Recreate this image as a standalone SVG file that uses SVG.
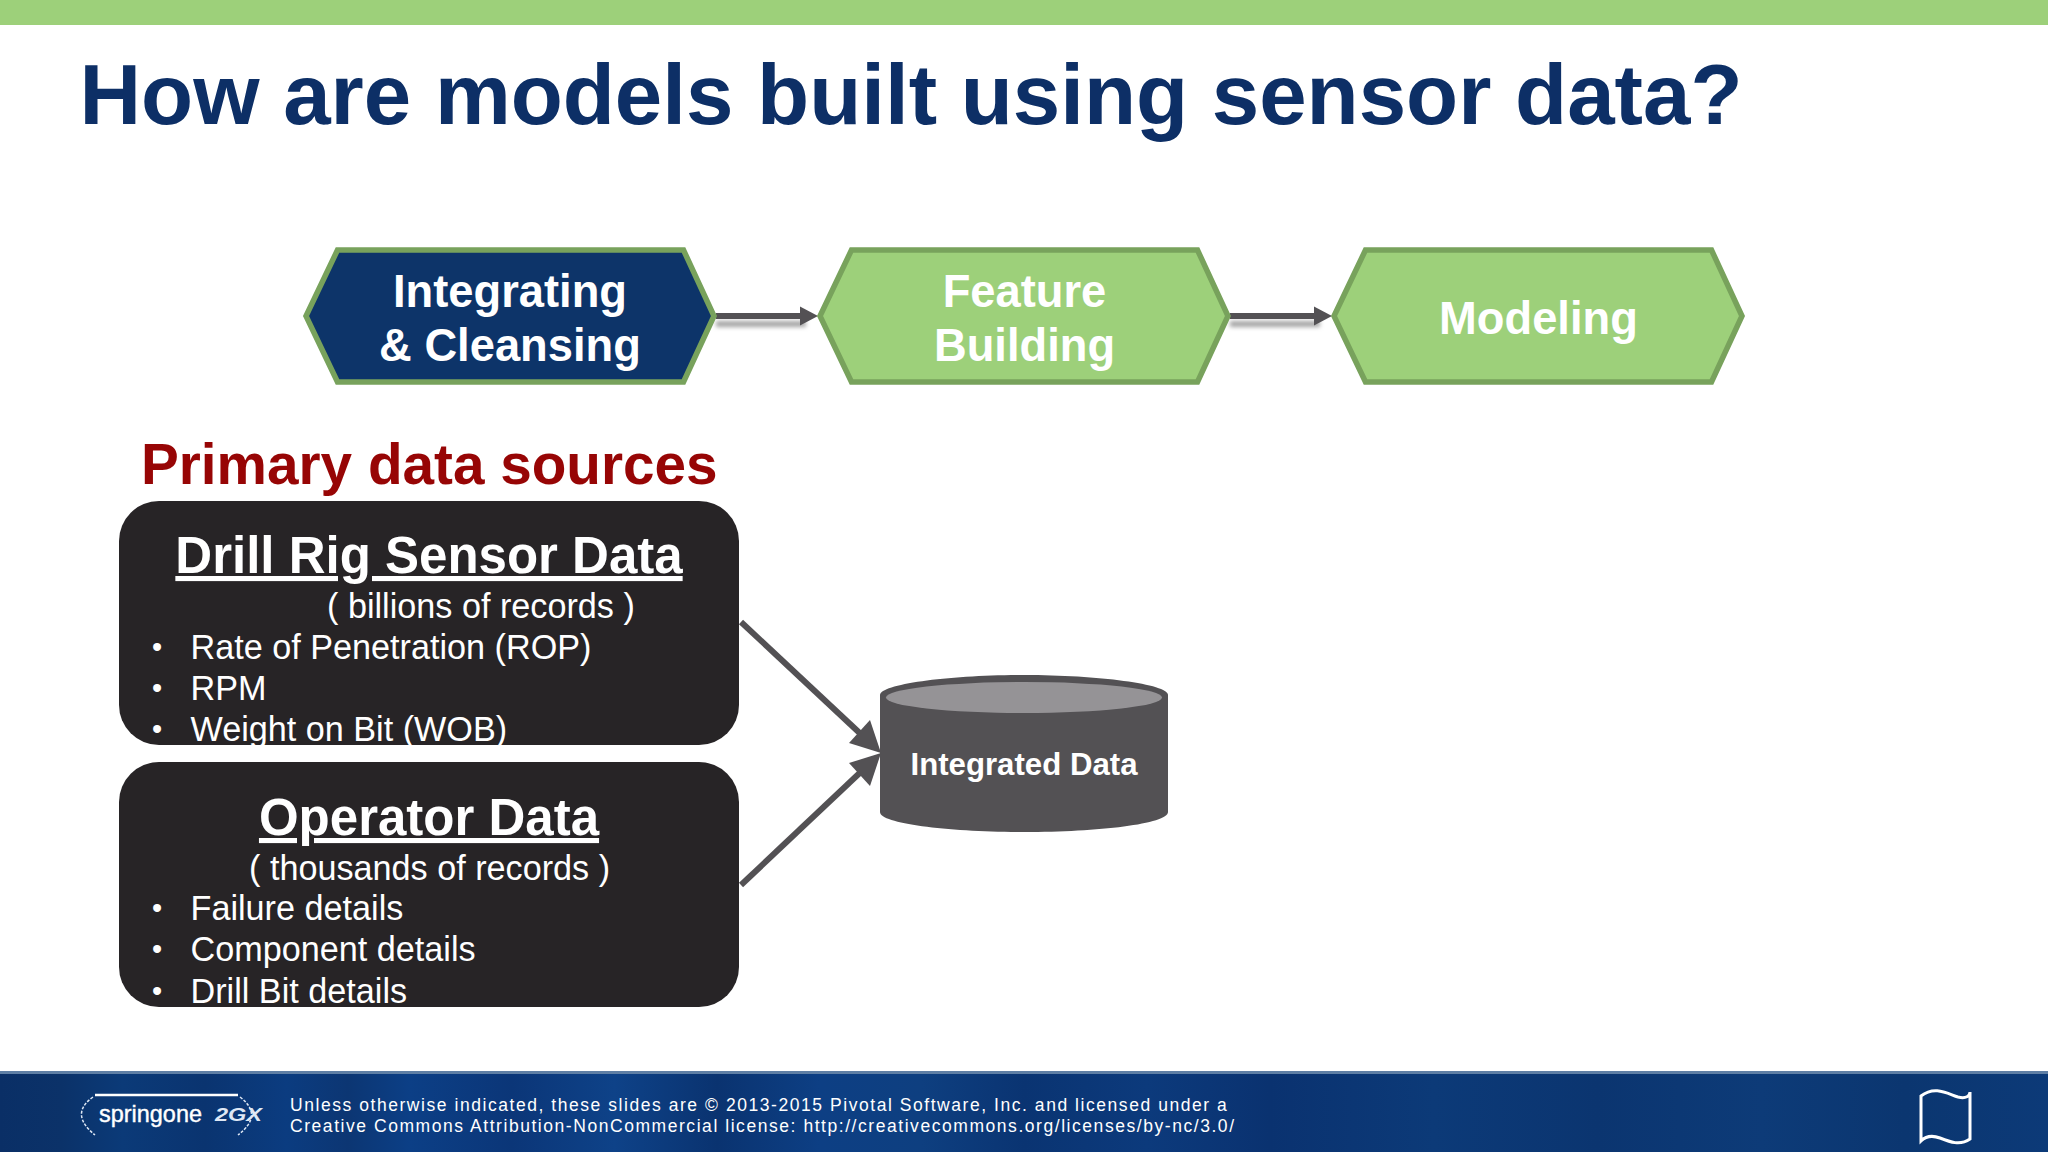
<svg xmlns="http://www.w3.org/2000/svg" width="2048" height="1152" viewBox="0 0 2048 1152">
<style>
text{font-family:"Liberation Sans",Arial,sans-serif}
.hex{stroke:#78a25c;stroke-width:5.5;stroke-linejoin:miter}
.ht{font-size:45.300px;font-weight:bold;fill:#fff;text-anchor:middle}
.box{fill:#272426}
.bt{font-size:51px;font-weight:bold;fill:#fff;text-anchor:middle;text-decoration:underline}
.li{font-size:34.200px;fill:#fff}
.bu{font-size:29px;fill:#fff}
.conn{stroke:#535154;stroke-width:6;fill:none}
.head{fill:#535154}
.foot{font-size:17.500px;fill:#fff;letter-spacing:1.550px}
.sh{fill:#a5a5a5}
</style>
<defs>
<linearGradient id="fg" x1="0" x2="1" y1="0" y2="0">
<stop offset="0" stop-color="#0a2f66"/><stop offset="0.03" stop-color="#0b3269"/><stop offset="0.06" stop-color="#0b3a78"/><stop offset="0.1" stop-color="#0a3470"/><stop offset="0.14" stop-color="#0b3c80"/><stop offset="0.17" stop-color="#0c3673"/><stop offset="0.2" stop-color="#0c3f86"/><stop offset="0.25" stop-color="#0b3678"/><stop offset="0.3" stop-color="#0e4288"/><stop offset="0.35" stop-color="#0a3370"/><stop offset="0.4" stop-color="#0d3f84"/><stop offset="0.45" stop-color="#0e3f80"/><stop offset="0.5" stop-color="#0a3472"/><stop offset="0.56" stop-color="#0c3a7c"/><stop offset="0.62" stop-color="#0a3270"/><stop offset="0.7" stop-color="#0c3a78"/><stop offset="0.78" stop-color="#0b3570"/><stop offset="0.86" stop-color="#0d3b78"/><stop offset="0.93" stop-color="#0b3670"/><stop offset="1" stop-color="#0c3a78"/>
</linearGradient>
<filter id="sh" x="-10%" y="-100%" width="120%" height="300%"><feGaussianBlur stdDeviation="2"/></filter>
</defs>
<rect width="2048" height="1152" fill="#fff"/>
<rect width="2048" height="25" fill="#9dd07a"/>
<text x="79.500" y="124" font-size="85.270" font-weight="bold" fill="#0d2f66">How are models built using sensor data?</text>
<g id="connectors">
<rect class="sh" x="716" y="321" width="90" height="6" filter="url(#sh)"/>
<rect class="sh" x="1230" y="321" width="90" height="6" filter="url(#sh)"/>
<path class="conn" d="M716 316H802"/><path class="head" d="M800 306.500L818 316L800 325.500Z"/>
<path class="conn" d="M1230 316H1316"/><path class="head" d="M1314 306.500L1332 316L1314 325.500Z"/>
<path class="conn" d="M741 622L865 738"/><path class="head" d="M881 753L849 743L870 720Z"/>
<path class="conn" d="M741 885L865 768"/><path class="head" d="M881 753L849 763L870 786Z"/>
</g>
<g id="n1"><path class="hex" fill="#0d3469" d="M337.500 250H683.500L714 316L683.500 382H337.500L306 316Z"/><text class="ht" x="510" y="306.500">Integrating</text><text class="ht" x="510" y="361">&amp; Cleansing</text></g>
<g id="n2"><path class="hex" fill="#9dd07a" d="M851.500 250H1197.500L1228 316L1197.500 382H851.500L820 316Z"/><text class="ht" x="1024.500" y="306.500">Feature</text><text class="ht" x="1024.500" y="361">Building</text></g>
<g id="n3"><path class="hex" fill="#9dd07a" d="M1365.500 250H1711.500L1742 316L1711.500 382H1365.500L1334 316Z"/><text class="ht" x="1538.500" y="334">Modeling</text></g>
<text x="141" y="483.500" font-size="56.700" font-weight="bold" fill="#970505">Primary data sources</text>
<g id="drill"><rect class="box" x="119" y="501" width="620" height="244" rx="40"/>
<text class="bt" x="429" y="573">Drill Rig Sensor Data</text>
<text class="li" x="327" y="618">( billions of records )</text>
<text class="bu" x="152" y="657">•</text><text class="li" x="190.500" y="659">Rate of Penetration (ROP)</text>
<text class="bu" x="152" y="698">•</text><text class="li" x="190.500" y="700">RPM</text>
<text class="bu" x="152" y="739">•</text><text class="li" x="190.500" y="741">Weight on Bit (WOB)</text></g>
<g id="operator"><rect class="box" x="119" y="762" width="620" height="245" rx="40"/>
<text class="bt" x="429" y="835">Operator Data</text>
<text class="li" x="249" y="880">( thousands of records )</text>
<text class="bu" x="152" y="918">•</text><text class="li" x="190.500" y="920">Failure details</text>
<text class="bu" x="152" y="959">•</text><text class="li" x="190.500" y="961">Component details</text>
<text class="bu" x="152" y="1001">•</text><text class="li" x="190.500" y="1003">Drill Bit details</text></g>
<g id="cyl"><path fill="#535154" d="M880 695C880 684 950 675 1024 675C1098 675 1168 684 1168 695V812C1168 824 1098 832 1024 832C950 832 880 824 880 812Z"/>
<ellipse cx="1024" cy="697.500" rx="138" ry="15.500" fill="#959396"/>
<text x="1024" y="774.500" font-size="31.200" font-weight="bold" fill="#fff" text-anchor="middle">Integrated Data</text></g>
<g id="footer"><rect y="1072" width="2048" height="80" fill="url(#fg)"/><rect y="1071" width="2048" height="3" fill="#5f7fa5"/>
<path d="M93 1097Q69 1114 95 1135M240 1097Q264 1115 238 1135" stroke="#dfe8f5" stroke-width="1.500" stroke-dasharray="3 1.500" fill="none"/>
<path d="M95 1095H238" stroke="#fff" stroke-width="2.500" fill="none"/>
<text x="99" y="1122" font-size="24" fill="#fff" stroke="#fff" stroke-width="0.400" textLength="103" lengthAdjust="spacingAndGlyphs">springone</text>
<text x="215" y="1121" font-size="18" font-weight="bold" font-style="italic" fill="#dfe8f5" textLength="47" lengthAdjust="spacingAndGlyphs">2GX</text>
<text class="foot" x="290" y="1111">Unless otherwise indicated, these slides are © 2013-2015 Pivotal Software, Inc. and licensed under a</text>
<text class="foot" x="290" y="1132">Creative Commons Attribution-NonCommercial license: http://creativecommons.org/licenses/by-nc/3.0/</text>
<path d="M1921 1096C1935 1085 1948 1094 1958 1097C1966 1099 1970 1096 1970 1092V1139C1960 1146 1950 1142 1940 1138C1932 1135 1926 1136 1921 1141Z" fill="none" stroke="#fff" stroke-width="3"/>
</g>
</svg>
